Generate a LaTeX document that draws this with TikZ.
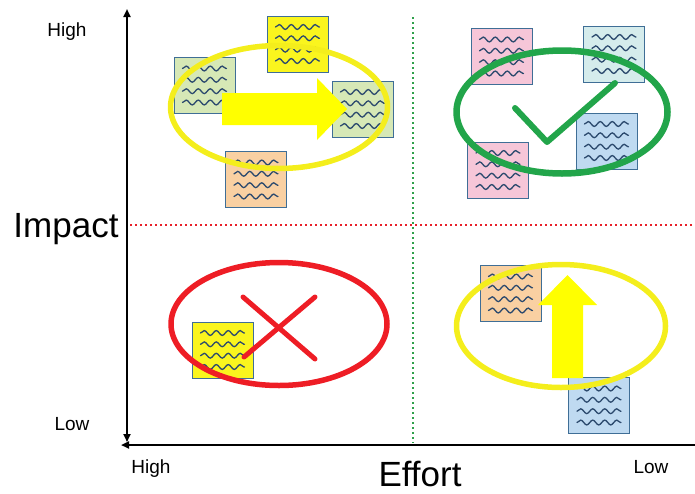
\documentclass[tikz,border=0pt]{standalone}
\usepackage{fontspec}
\setmainfont{Liberation Sans}
\usetikzlibrary{shapes.geometric,decorations.pathmorphing,arrows.meta}

\definecolor{noteedge}{HTML}{3F6E96}
\definecolor{wavecol}{HTML}{2C4A6E}
\definecolor{notegreen}{HTML}{D6E8B6}
\definecolor{noteyellow}{HTML}{FAF51E}
\definecolor{noteorange}{HTML}{F9D0A2}
\definecolor{notepink}{HTML}{F6C6D8}
\definecolor{noteteal}{HTML}{D5ECEC}
\definecolor{noteblue}{HTML}{BFDAF1}
\definecolor{ringyellow}{HTML}{F4EE1C}
\definecolor{ringgreen}{HTML}{22A54A}
\definecolor{ringred}{HTML}{EE1D25}
\definecolor{arrowyellow}{HTML}{FFFF00}
\definecolor{dotred}{HTML}{E8202A}
\definecolor{dotgreen}{HTML}{2EA04A}

\tikzset{
  note/.style={draw=noteedge, line width=0.9pt, fill=#1,
    minimum width=61pt, minimum height=56pt, inner sep=0pt},
  wave/.style={wavecol, line width=1.3pt, line cap=round, decorate,
    decoration={snake, amplitude=2.4pt, segment length=12pt}},
  ring/.style={ellipse, draw=#1, line width=5.5pt, inner sep=0pt},
  axisline/.style={line width=2.2pt},
  axtip/.tip={Triangle[length=8pt,width=7pt]},
  divider/.style={line width=2.4pt, dash pattern=on 2.4pt off 2.6pt},
  small/.style={font=\fontsize{19}{19}\selectfont, anchor=base},
  big/.style={font=\fontsize{35}{35}\selectfont, anchor=base},
  stroke/.style={line width=6pt, line cap=round, line join=round},
  bigarrow/.style={fill=arrowyellow, draw=none}
}

% four wavy "text" lines inside a note
\newcommand\notewaves[1]{%
  \foreach \dy in {-17,-5.7,5.7,17}{%
    \draw[wave] ([xshift=-22pt,yshift=\dy pt]#1.center) --
                ([xshift=22pt,yshift=\dy pt]#1.center);}}

\begin{document}
\begin{tikzpicture}[x=1pt,y=-1pt]
\useasboundingbox (0,0) rectangle (695,493);

% quadrant dividers
\coordinate (hdl) at (130,225);
\coordinate (hdr) at (695,225);
\coordinate (vdt) at (413,17);
\coordinate (vdb) at (413,443);
\draw[divider, dotred] (hdl) -- (hdr);
\draw[divider, dotgreen] (vdt) -- (vdb);

% axes
\coordinate (vtop) at (127,9);
\coordinate (vbot) at (127,442);
\coordinate (hleft) at (121,445);
\coordinate (hright) at (695,445);
\draw[axisline, axtip-axtip] (vtop) -- (vbot);
\draw[axisline, axtip-] (hleft) -- (hright);

% axis labels
\node[small] (ihigh) at (67,36) {High};
\node[small] (ilow) at (72,430) {Low};
\node[big] (impact) at (66,237) {Impact};
\node[small] (ehigh) at (151,473) {High};
\node[small] (elow) at (651,473) {Low};
\node[big] (effort) at (420,486) {Effort};

% sticky notes
\node[note=notegreen]  (n1) at (204.5,85.5) {};
\node[note=noteyellow] (n2) at (297.5,44) {};
\node[note=notegreen]  (n3) at (362.5,109) {};
\node[note=noteorange] (n4) at (256,179.5) {};
\node[note=notepink]   (p1) at (501.5,56.5) {};
\node[note=noteteal]   (t1) at (614,54) {};
\node[note=notepink]   (p2) at (498,170) {};
\node[note=noteblue]   (b1) at (606.5,141) {};
\node[note=noteyellow] (y2) at (222.5,350) {};
\node[note=noteorange] (o2) at (510.5,293.5) {};
\node[note=noteblue]   (b2) at (599,405.5) {};
\foreach \n in {n1,n2,n3,n4,p1,t1,p2,b1,y2,o2,b2}{\notewaves{\n}}

% rings around each group
\node[ring=ringyellow, minimum width=217pt, minimum height=123pt] (e1) at (279,107) {};
\node[ring=ringgreen, line width=6.5pt, minimum width=211pt, minimum height=123pt] (e2) at (562,112) {};
\node[ring=ringred, minimum width=216pt, minimum height=123pt] (e3) at (279,324) {};
\node[ring=ringyellow, minimum width=209pt, minimum height=123pt] (e4) at (561,326) {};

% move right
\fill[bigarrow] (222,93) -- (317,93) -- (317,78) -- (347,109) -- (317,140)
  -- (317,125) -- (222,125) -- cycle;
% move up
\fill[bigarrow] (552,378) -- (552,305) -- (538,305) -- (567.5,275) -- (597,305)
  -- (583,305) -- (583,378) -- cycle;

% check mark
\coordinate (c1) at (515,108);
\coordinate (c2) at (547,142);
\coordinate (c3) at (615,83);
\draw[stroke, ringgreen] (c1) -- (c2) -- (c3);

% cross
\coordinate (x1) at (243,297);
\coordinate (x2) at (315,359);
\coordinate (x3) at (315,297);
\coordinate (x4) at (244,357);
\draw[stroke, ringred, line width=5pt] (x1) -- (x2);
\draw[stroke, ringred, line width=5pt] (x3) -- (x4);
\end{tikzpicture}
\end{document}
